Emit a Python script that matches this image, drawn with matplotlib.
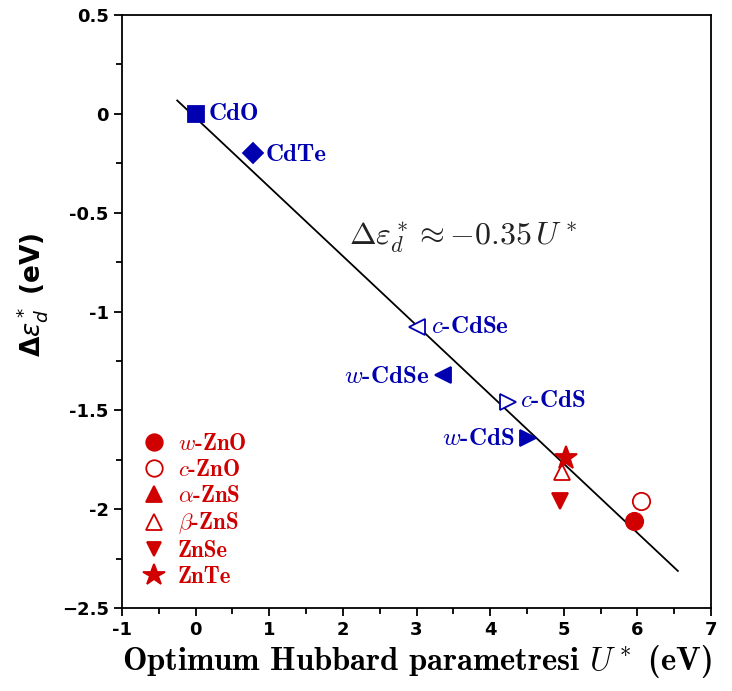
import matplotlib.pyplot as plt
from matplotlib import font_manager
from matplotlib.lines import Line2D
import os

plt.rcParams['mathtext.fontset'] = 'cm'

cm_dir = os.path.join(plt.matplotlib.get_data_path(), 'fonts', 'ttf')
cmb = font_manager.FontProperties(fname=os.path.join(cm_dir, 'cmb10.ttf'), size=18)
cmb_leg = font_manager.FontProperties(fname=os.path.join(cm_dir, 'cmb10.ttf'), size=16.5)
cmb_x = font_manager.FontProperties(fname=os.path.join(cm_dir, 'cmb10.ttf'), size=23.5)

blue = '#0000b0'
red = '#d00000'

# Cd compounds
cd_names = ['CdO', 'CdTe', '$c$-CdSe', '$w$-CdSe', '$c$-CdS', '$w$-CdS']
cd_u = [0.0, 0.78, 3.01, 3.36, 4.24, 4.52]
cd_de = [0.0, -0.20, -1.08, -1.32, -1.46, -1.64]
cd_marker = ['s', 'D', '<', '<', '>', '>']
cd_filled = [True, True, False, True, False, True]

# Zn compounds
zn_names = ['$w$-ZnO', '$c$-ZnO', r'$\alpha$-ZnS', r'$\beta$-ZnS', 'ZnSe', 'ZnTe']
zn_u = [5.96, 6.05, None, 4.97, 4.95, 5.03]
zn_de = [-2.06, -1.96, None, -1.81, -1.96, -1.74]
zn_marker = ['o', 'o', '^', '^', 'v', '*']
zn_filled = [True, False, True, False, True, True]

# fit line
fit_u = [-0.25, 6.55]
slope = -0.35
offset = -0.02

yticks = [-2.5, -2, -1.5, -1, -0.5, 0, 0.5]
yticklabels = ['\u22122.5', '-2', '-1.5', '-1', '-0.5', '0', '0.5']
xticks = [-1, 0, 1, 2, 3, 4, 5, 6, 7]

fig = plt.figure(figsize=(7.32, 6.91), dpi=100)
ax = fig.add_axes([0.1667, 0.1201, 0.8046, 0.8582])

ax.plot(fit_u, [slope * u + offset for u in fit_u], color='black', lw=1.3, zorder=1)

sizes = {'s': 11, 'D': 10, '<': 11, '>': 11, 'o': 12.5, '^': 12, 'v': 11, '*': 17}
for u, d, m, f in zip(cd_u, cd_de, cd_marker, cd_filled):
    ax.plot(u, d, marker=m, ms=sizes[m], color=blue, mfc=blue if f else 'white',
            mew=1.3, ls='none', zorder=3)

handles = []
for u, d, m, f in zip(zn_u, zn_de, zn_marker, zn_filled):
    if u is not None:
        ax.plot(u, d, marker=m, ms=sizes[m], color=red, mfc=red if f else 'white',
                mew=1.3, ls='none', zorder=3)
    handles.append(Line2D([], [], marker=m, ms=sizes[m] * 0.95, color=red,
                          mfc=red if f else 'white', mew=1.3, ls='none'))

# Cd labels
ax.text(0.17, 0.0, cd_names[0], color=blue, fontproperties=cmb, va='center', ha='left')
ax.text(0.95, -0.21, cd_names[1], color=blue, fontproperties=cmb, va='center', ha='left')
ax.text(3.2, -1.08, cd_names[2], color=blue, fontproperties=cmb, va='center', ha='left')
ax.text(3.17, -1.33, cd_names[3], color=blue, fontproperties=cmb, va='center', ha='right')
ax.text(4.40, -1.455, cd_names[4], color=blue, fontproperties=cmb, va='center', ha='left')
ax.text(4.33, -1.645, cd_names[5], color=blue, fontproperties=cmb, va='center', ha='right')

ax.text(2.08, -0.625, r'$\mathbf{\Delta}\varepsilon^*_d \approx \mathbf{-0.35}\,U^*$',
        fontsize=23, color='#222222', ha='left', va='center')

leg = ax.legend(handles, zn_names, loc='upper left', bbox_to_anchor=(0.0, 0.322),
                frameon=False, prop=cmb_leg, labelcolor=red, labelspacing=0.17,
                handletextpad=0.35, handlelength=1.4, borderaxespad=0.3)

ax.set_xlim(-1, 7)
ax.set_ylim(-2.5, 0.5)
ax.set_xticks(xticks)
ax.set_xticklabels([str(t) for t in xticks])
ax.set_yticks(yticks)
ax.set_yticklabels(yticklabels)
ax.set_xticks([t + 0.5 for t in xticks[:-1]], minor=True)
ax.set_yticks([t + 0.25 for t in yticks[:-1]], minor=True)
ax.tick_params(which='both', direction='out', top=False, right=False, width=1.3)
ax.tick_params(which='major', length=6, labelsize=13)
ax.tick_params(which='minor', length=4)
for lab in ax.get_xticklabels() + ax.get_yticklabels():
    lab.set_fontweight('bold')
for s in ax.spines.values():
    s.set_linewidth(1.3)

ax.set_xlabel('Optimum Hubbard parametresi $U^*$ (eV)', fontproperties=cmb_x, labelpad=3)
ax.set_ylabel(r'$\mathbf{\Delta}\varepsilon^*_d$ (eV)', fontsize=19, fontweight='bold',
              math_fontfamily='dejavusans')
ax.yaxis.set_label_coords(-0.122, 0.528)

fig.savefig('out.png', dpi=100)
